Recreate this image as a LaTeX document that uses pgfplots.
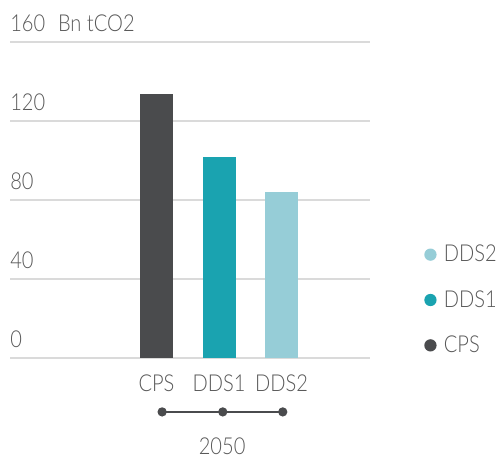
\documentclass[border=0pt]{standalone}
\usepackage{fontspec}
\setmainfont{Lato Light}[FakeStretch=0.86]
\usepackage{pgfplots}
\pgfplotsset{compat=1.18}
\definecolor{cps}{HTML}{4A4B4D}
\definecolor{dds1}{HTML}{1AA3B0}
\definecolor{dds2}{HTML}{96CDD7}
\definecolor{txt}{HTML}{595959}
\definecolor{gridc}{HTML}{DADADA}
\newcommand{\lf}{\fontsize{17.5}{20}\selectfont}
\begin{document}
\begin{tikzpicture}
\begin{axis}[
  scale only axis, width=270pt, height=237pt,
  xmin=-2.344, xmax=3.416, ymin=0, ymax=160,
  clip=false,
  axis line style={draw=none},
  ytick={0,40,80,120,160}, yticklabels={},
  ymajorgrids, grid style={gridc, line width=0.8pt},
  major tick length=0pt,
  xtick={0,1,2}, xticklabels={CPS,DDS1,DDS2},
  xticklabel style={anchor=base, yshift=-25.5pt, font=\lf, text=txt},
  legend cell align=left,
  reverse legend,
  legend style={at={(1.139,0.1835)}, anchor=west, draw=none, fill=none,
    font=\lf, text=txt, row sep=16pt,
    nodes={inner xsep=5.5pt}},
  legend image code/.code={\fill[#1] (4.5pt,0pt) circle (4.6pt);},
]
\addplot[ybar, bar width=24.75pt, bar shift=0pt, fill=cps, draw=none] coordinates {(0,133.5)};
\addlegendentry{CPS}
\addplot[ybar, bar width=24.75pt, bar shift=0pt, fill=dds1, draw=none] coordinates {(1,101.8)};
\addlegendentry{DDS1}
\addplot[ybar, bar width=24.75pt, bar shift=0pt, fill=dds2, draw=none] coordinates {(2,84.0)};
\addlegendentry{DDS2}
\addplot[cps, line width=0.9pt, mark=*, mark size=3pt, forget plot] coordinates {(0.09,-27.3)(1.06,-27.3)(2.02,-27.3)};
\node[anchor=base west, inner sep=0pt, yshift=7.5pt, font=\lf, text=txt] at (axis cs:-2.344,0) {0};
\node[anchor=base west, inner sep=0pt, yshift=7.5pt, font=\lf, text=txt] at (axis cs:-2.344,40) {40};
\node[anchor=base west, inner sep=0pt, yshift=7.5pt, font=\lf, text=txt] at (axis cs:-2.344,80) {80};
\node[anchor=base west, inner sep=0pt, yshift=7.5pt, font=\lf, text=txt] at (axis cs:-2.344,120) {120};
\node[anchor=base west, inner sep=0pt, yshift=7.5pt, font=\lf, text=txt] at (axis cs:-2.344,160) {160\hspace{0.55em}Bn tCO2};
\node[anchor=base, inner sep=0pt, font=\lf, text=txt] at (axis cs:1.05,-49.1) {2050};
\path (axis description cs:-0.02778,-0.3165) coordinate (bbA) (axis description cs:1.35,1.1329) coordinate (bbB);
\end{axis}
\pgfresetboundingbox
\useasboundingbox (bbA) rectangle (bbB);
\end{tikzpicture}
\end{document}
